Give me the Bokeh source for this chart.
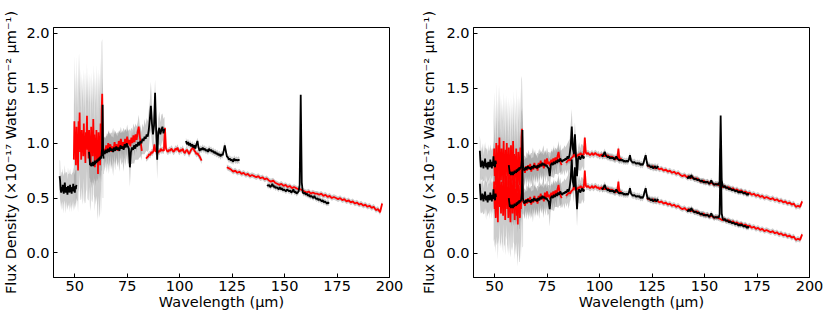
import numpy as np
from bokeh.plotting import figure
from bokeh.layouts import row
from bokeh.models import Range1d, FixedTicker, NumeralTickFormatter
from bokeh.embed import file_html
from bokeh.resources import INLINE

X_TICKS = [50, 75, 100, 125, 150, 175, 200]
Y_TICKS = [0.0, 0.5, 1.0, 1.5, 2.0]
X_LABEL = "Wavelength (μm)"
Y_LABEL = "Flux Density (×10⁻¹⁷ Watts cm⁻² μm⁻¹)"

# ---------------- left panel (unscaled segments) ----------------
L_B1_START, L_B1_STEP = 42.8, 0.25
L_B1_FLUX = [0.70, 0.66, 0.58, 0.55, 0.60, 0.56, 0.62, 0.57, 0.54, 0.59,
             0.64, 0.57, 0.55, 0.60, 0.58, 0.53, 0.61, 0.57, 0.59, 0.55,
             0.62, 0.56, 0.58, 0.54, 0.60, 0.57, 0.63, 0.56, 0.59, 0.55,
             0.61, 0.58, 0.62]
L_B1_ERR = [0.15, 0.18, 0.13, 0.16, 0.14, 0.17, 0.15, 0.13, 0.18, 0.14,
            0.16, 0.15, 0.19, 0.13, 0.16, 0.14, 0.17, 0.15, 0.13, 0.18,
            0.15, 0.16, 0.14, 0.17, 0.13, 0.16, 0.15, 0.18, 0.14, 0.16,
            0.15, 0.17, 0.14]

L_R1_START, L_R1_STEP = 49.6, 0.25
L_R1_FLUX = [0.85, 1.20, 0.95, 1.10, 0.80, 1.15, 0.90, 1.05, 0.75, 1.20,
             1.00, 1.28, 0.92, 1.08, 0.85, 1.12, 0.96, 1.02, 0.88, 1.18,
             0.90, 1.05, 0.82, 1.10, 0.98, 1.25, 0.94, 1.06, 0.86, 1.12,
             0.95, 1.00, 0.80, 1.15, 0.92, 1.02, 0.88, 1.22, 0.95, 1.08,
             0.78, 1.05, 0.90, 1.12, 0.85, 1.00, 0.72, 1.10, 0.92, 0.98,
             0.80, 1.18, 0.88, 1.30, 1.45, 1.05, 0.95]
L_R1_ERR = [0.45, 0.60, 0.40, 0.55, 0.35, 0.65, 0.42, 0.58, 0.38, 0.62,
            0.45, 0.55, 0.40, 0.60, 0.36, 0.52, 0.44, 0.58, 0.38, 0.50,
            0.42, 0.60, 0.36, 0.55, 0.40, 0.48, 0.44, 0.58, 0.38, 0.52,
            0.42, 0.62, 0.36, 0.50, 0.44, 0.56, 0.38, 0.50, 0.42, 0.58,
            0.40, 0.55, 0.46, 0.60, 0.38, 0.65, 0.42, 0.58, 0.50, 0.66,
            0.44, 0.60, 0.52, 0.62, 0.50, 0.55, 0.45]

L_B2_START, L_B2_STEP = 56.8, 0.25
L_B2_FLUX = [0.92, 0.88, 0.80, 0.82, 0.79, 0.81, 0.80, 0.83, 0.79, 0.82,
             0.80, 0.84, 0.81, 0.83, 0.82, 0.85, 0.83, 0.84, 0.86, 0.84,
             0.87, 0.85, 0.88, 0.86, 0.90, 0.95, 1.35, 0.90, 0.86]
L_B2_ERR = [0.15, 0.20, 0.12, 0.18, 0.14, 0.22, 0.13, 0.19, 0.15, 0.21,
            0.12, 0.18, 0.16, 0.22, 0.13, 0.20, 0.15, 0.19, 0.12, 0.21,
            0.14, 0.18, 0.16, 0.22, 0.15, 0.20, 0.25, 0.18, 0.14]

L_B3_START, L_B3_STEP = 63.8, 0.5
L_B3_FLUX = [0.93, 0.90, 0.94, 0.91, 0.95, 0.92, 0.96, 0.93, 0.95, 0.92,
             0.96, 0.93, 0.97, 0.94, 0.96, 0.93, 0.98, 0.95, 0.97, 0.94,
             0.99, 0.96, 1.00, 0.97, 0.95, 0.78, 0.92, 0.96, 0.94, 0.98,
             0.95, 0.99, 0.97, 1.01, 0.98, 1.02, 1.00, 1.04, 1.02, 1.06,
             1.04, 1.08, 1.06, 1.12, 1.22, 1.34, 1.18, 1.08, 1.16, 1.46,
             1.12, 0.85, 1.10, 1.14, 1.08, 1.12, 1.15, 1.09, 1.13]
L_B3_ERR = [0.12, 0.16, 0.10, 0.18, 0.13, 0.20, 0.11, 0.17, 0.14, 0.22,
            0.12, 0.18, 0.10, 0.16, 0.13, 0.19, 0.11, 0.15, 0.14, 0.20,
            0.12, 0.17, 0.10, 0.16, 0.13, 0.18, 0.11, 0.15, 0.12, 0.17,
            0.10, 0.14, 0.12, 0.16, 0.11, 0.15, 0.10, 0.14, 0.12, 0.16,
            0.12, 0.15, 0.14, 0.18, 0.16, 0.22, 0.18, 0.14, 0.16, 0.12,
            0.14, 0.18, 0.12, 0.15, 0.11, 0.14, 0.12, 0.13, 0.11]

L_R2_START, L_R2_STEP = 64.0, 0.5
L_R2_FLUX = [0.95, 0.91, 0.98, 0.93, 1.00, 0.94, 0.99, 0.92, 0.97, 0.93,
             1.01, 0.95, 0.99, 0.93, 1.02, 0.96, 1.04, 0.97, 1.01, 0.95,
             1.04, 0.98, 1.06, 0.99, 1.03, 0.97, 1.05, 1.00, 1.07, 1.01,
             1.08, 1.03, 1.10, 1.15, 1.06, 1.00, 0.93]
L_R2_ERR = [0.10, 0.14, 0.09, 0.13, 0.11, 0.15, 0.10, 0.14, 0.09, 0.12,
            0.11, 0.15, 0.10, 0.13, 0.09, 0.14, 0.11, 0.12, 0.10, 0.14,
            0.09, 0.13, 0.11, 0.12, 0.10, 0.14, 0.09, 0.12, 0.11, 0.13,
            0.10, 0.12, 0.09, 0.11, 0.10, 0.12, 0.09]

L_R3_START, L_R3_STEP = 84.0, 0.5
L_R3_FLUX = [0.86, 0.87, 0.88, 0.90, 0.89, 0.92, 0.91, 0.93, 0.99, 0.92,
             0.94, 0.91, 0.93, 0.92, 0.95, 0.93, 0.94, 0.93, 1.14, 0.95,
             0.93, 0.92, 0.94, 0.93, 0.95, 0.94, 0.92, 0.93, 0.95, 0.94,
             0.96, 0.93, 0.92, 0.94, 0.93, 0.95, 0.92, 0.91, 0.93, 0.94,
             0.92, 0.90, 0.92, 0.94, 0.95, 0.97, 0.93, 0.92, 0.90, 0.91,
             0.89, 0.88, 0.86, 0.84]
L_R3_ERR = 0.03

L_B4_START, L_B4_STEP = 103.0, 0.5
L_B4_FLUX = [1.02, 0.99, 1.01, 0.98, 1.00, 0.97, 0.99, 0.96, 0.98, 0.95,
             0.99, 1.02, 0.96, 0.93, 0.95, 0.94, 0.96, 0.94, 0.95, 0.93,
             0.94, 0.92, 0.95, 0.93, 0.94, 0.92, 0.93, 0.91, 0.92, 0.90,
             0.91, 0.89, 0.90, 0.88, 0.90, 0.89, 0.93, 0.98, 0.93, 0.88,
             0.87, 0.85, 0.86, 0.84, 0.85, 0.83, 0.86, 0.84, 0.85, 0.84,
             0.85, 0.84]
L_B4_ERR = 0.03

L_R4_START, L_R4_STEP = 122.5, 1.0
L_R4_FLUX = [0.78, 0.77, 0.76,
             0.74, 0.75, 0.73, 0.74, 0.72,
             0.73, 0.71, 0.72, 0.70, 0.71,
             0.70, 0.69, 0.70, 0.68, 0.69,
             0.67, 0.68, 0.66, 0.65, 0.66,
             0.64, 0.63, 0.62, 0.63, 0.61,
             0.62, 0.60, 0.61, 0.59, 0.60,
             0.59, 0.58, 0.58, 0.57, 0.56,
             0.55, 0.56, 0.54, 0.55, 0.54,
             0.54, 0.53, 0.54, 0.52, 0.53,
             0.51, 0.52, 0.50, 0.51, 0.50,
             0.49, 0.50, 0.48, 0.49, 0.47,
             0.48, 0.46, 0.47, 0.45, 0.46,
             0.44, 0.45, 0.43, 0.44, 0.42,
             0.43, 0.41, 0.42, 0.39, 0.40,
             0.37, 0.45]
L_R4_ERR = 0.025

L_B5_START, L_B5_STEP = 141.7, 0.5
L_B5_FLUX = [0.62, 0.61, 0.62, 0.60, 0.61, 0.63, 0.60, 0.61, 0.59, 0.60,
             0.59, 0.58, 0.60, 0.58, 0.59, 0.57, 0.58, 0.57, 0.56, 0.58,
             0.57, 0.56, 0.57, 0.55, 0.56, 0.58, 0.55, 0.56, 0.54, 0.55,
             0.56, 0.62, 1.44, 0.64, 0.55, 0.54, 0.55, 0.53, 0.54, 0.52,
             0.53, 0.51, 0.52, 0.51, 0.50, 0.52, 0.50, 0.49, 0.50, 0.48,
             0.49, 0.48, 0.47, 0.48, 0.46, 0.47, 0.46, 0.45, 0.46, 0.45]
L_B5_ERR = 0.025

# ---------------- right panel (scaled spectrum, shown twice) ----------------
R_OFFSETS = [0.0, -0.30]

R_B1_START, R_B1_STEP = 43.0, 0.25
R_B1_FLUX = [0.93, 0.85, 0.78, 0.82, 0.79, 0.84, 0.80, 0.77, 0.83, 0.79,
             0.86, 0.81, 0.78, 0.82, 0.80, 0.76, 0.83, 0.79, 0.81, 0.78,
             0.85, 0.80, 0.82, 0.77, 0.83, 0.80, 0.88, 0.79, 0.82, 0.78,
             0.84, 0.81]
R_B1_ERR = [0.14, 0.17, 0.12, 0.15, 0.13, 0.16, 0.14, 0.12, 0.17, 0.13,
            0.15, 0.14, 0.18, 0.12, 0.15, 0.13, 0.16, 0.14, 0.12, 0.17,
            0.14, 0.15, 0.13, 0.16, 0.12, 0.15, 0.14, 0.17, 0.13, 0.15,
            0.14, 0.16]

R_R1_START, R_R1_STEP = 49.6, 0.25
R_R1_FLUX = [0.80, 0.95, 0.70, 0.88, 0.62, 1.00, 0.75, 0.90, 0.58, 0.98,
             0.78, 1.05, 0.72, 0.92, 0.66, 0.95, 0.80, 0.86, 0.64, 1.02,
             0.74, 0.90, 0.60, 0.94, 0.78, 1.00, 0.70, 0.88, 0.62, 0.96,
             0.76, 0.84, 0.58, 0.98, 0.72, 0.86, 0.66, 1.02, 0.78, 0.90,
             0.60, 0.88, 0.70, 0.95, 0.64, 0.84, 0.56, 0.92, 0.74, 0.82,
             0.62, 0.96, 0.70, 1.05, 1.13, 0.85, 0.76]
R_R1_ERR = [0.40, 0.52, 0.35, 0.48, 0.32, 0.55, 0.38, 0.50, 0.34, 0.54,
            0.40, 0.48, 0.36, 0.52, 0.32, 0.46, 0.40, 0.50, 0.34, 0.45,
            0.38, 0.52, 0.32, 0.48, 0.36, 0.44, 0.40, 0.50, 0.34, 0.46,
            0.38, 0.54, 0.32, 0.45, 0.40, 0.50, 0.34, 0.46, 0.38, 0.52,
            0.36, 0.50, 0.42, 0.55, 0.34, 0.58, 0.38, 0.52, 0.45, 0.60,
            0.40, 0.54, 0.46, 0.56, 0.45, 0.50, 0.40]

R_B2_START, R_B2_STEP = 56.8, 0.25
R_B2_FLUX = [0.80, 0.76, 0.72, 0.74, 0.71, 0.73, 0.72, 0.74, 0.71, 0.73,
             0.72, 0.75, 0.73, 0.74, 0.73, 0.76, 0.74, 0.75, 0.77, 0.75,
             0.78, 0.76, 0.78, 0.77, 0.80, 0.85, 1.12, 0.80, 0.77]
R_B2_ERR = [0.13, 0.17, 0.10, 0.15, 0.12, 0.19, 0.11, 0.16, 0.13, 0.18,
            0.10, 0.15, 0.14, 0.19, 0.11, 0.17, 0.13, 0.16, 0.10, 0.18,
            0.12, 0.15, 0.14, 0.19, 0.13, 0.17, 0.21, 0.15, 0.12]

R_B3_START, R_B3_STEP = 63.8, 0.5
R_B3_FLUX = [0.77, 0.75, 0.78, 0.76, 0.79, 0.77, 0.78, 0.76, 0.79, 0.77,
             0.80, 0.78, 0.79, 0.77, 0.80, 0.78, 0.81, 0.79, 0.82, 0.80,
             0.81, 0.79, 0.80, 0.78, 0.77, 0.70, 0.80, 0.82, 0.80, 0.83,
             0.81, 0.84, 0.82, 0.85, 0.83, 0.86, 0.84, 0.83, 0.85, 0.84,
             0.86, 0.85, 0.88, 0.86, 0.90, 0.98, 1.15, 0.95, 0.90, 1.08,
             0.88, 0.70, 0.86, 0.88, 0.85, 0.87, 0.89, 0.86, 0.88]
R_B3_ERR = [0.10, 0.14, 0.09, 0.16, 0.11, 0.17, 0.10, 0.15, 0.12, 0.19,
            0.10, 0.16, 0.09, 0.14, 0.11, 0.17, 0.10, 0.13, 0.12, 0.18,
            0.10, 0.15, 0.09, 0.14, 0.11, 0.16, 0.10, 0.13, 0.11, 0.15,
            0.09, 0.12, 0.10, 0.14, 0.10, 0.13, 0.09, 0.12, 0.10, 0.14,
            0.10, 0.13, 0.12, 0.16, 0.14, 0.19, 0.16, 0.12, 0.14, 0.11,
            0.12, 0.16, 0.10, 0.13, 0.10, 0.12, 0.10, 0.11, 0.10]

R_R2_START, R_R2_STEP = 64.0, 0.5
R_R2_FLUX = [0.76, 0.73, 0.79, 0.75, 0.80, 0.76, 0.81, 0.74, 0.79, 0.76,
             0.82, 0.77, 0.80, 0.75, 0.82, 0.78, 0.84, 0.79, 0.82, 0.77,
             0.85, 0.80, 0.86, 0.81, 0.83, 0.79, 0.85, 0.81, 0.86, 0.82,
             0.87, 0.83, 0.88, 0.92, 0.85, 0.82, 0.80]
R_R2_ERR = [0.09, 0.12, 0.08, 0.11, 0.10, 0.13, 0.09, 0.12, 0.08, 0.11,
            0.10, 0.13, 0.09, 0.11, 0.08, 0.12, 0.10, 0.11, 0.09, 0.12,
            0.08, 0.11, 0.10, 0.11, 0.09, 0.12, 0.08, 0.11, 0.10, 0.11,
            0.09, 0.11, 0.08, 0.10, 0.09, 0.11, 0.08]

R_R3_START, R_R3_STEP = 84.0, 0.5
R_R3_FLUX = [0.82, 0.83, 0.84, 0.85, 0.84, 0.86, 0.87, 0.88, 0.93, 0.87,
             0.89, 0.88, 0.90, 0.89, 0.91, 0.89, 0.90, 0.89, 1.05, 0.91,
             0.90, 0.91, 0.90, 0.89, 0.90, 0.91, 0.89, 0.90, 0.91, 0.90,
             0.89, 0.90, 0.88, 0.89, 0.90, 0.88, 0.89, 0.88, 0.89, 0.88,
             0.89, 0.87, 0.88, 0.87, 0.88, 0.86, 0.87, 0.85, 0.86, 0.86,
             0.95, 0.85, 0.86, 0.85]
R_R3_ERR = 0.03

R_B4_START, R_B4_STEP = 101.0, 0.5
R_B4_FLUX = [0.89, 0.88, 0.90, 0.92, 0.89, 0.88, 0.87, 0.88, 0.86, 0.87,
             0.86, 0.87, 0.85, 0.86, 0.88, 0.86, 0.85, 0.84, 0.85, 0.84,
             0.85, 0.83, 0.84, 0.83, 0.84, 0.83, 0.85, 0.89, 0.84, 0.83,
             0.82, 0.83, 0.82, 0.81, 0.82, 0.81, 0.82, 0.80, 0.81, 0.80,
             0.82, 0.86, 0.89, 0.83, 0.79, 0.80, 0.79, 0.78, 0.79, 0.77,
             0.78, 0.79, 0.77, 0.78, 0.79]
R_B4_ERR = 0.03

R_R4_START, R_R4_STEP = 122.5, 1.0
R_R4_FLUX = [0.80, 0.79, 0.78,
             0.79, 0.77, 0.78, 0.76, 0.77,
             0.75, 0.76, 0.74, 0.75, 0.73,
             0.74, 0.72, 0.73, 0.71, 0.70,
             0.71, 0.69, 0.70, 0.68, 0.69,
             0.67, 0.68, 0.66, 0.65, 0.66,
             0.64, 0.65, 0.63, 0.64, 0.62,
             0.63, 0.62, 0.61, 0.60, 0.61,
             0.59, 0.60, 0.58, 0.59, 0.57,
             0.58, 0.56, 0.57, 0.55, 0.56,
             0.54, 0.55, 0.53, 0.54, 0.52,
             0.53, 0.51, 0.52, 0.50, 0.51,
             0.50, 0.49, 0.50, 0.48, 0.49,
             0.47, 0.48, 0.46, 0.47, 0.45,
             0.46, 0.44, 0.45, 0.42, 0.43,
             0.42, 0.47]
R_R4_ERR = 0.025

R_B5_START, R_B5_STEP = 141.7, 0.5
R_B5_FLUX = [0.69, 0.68, 0.70, 0.68, 0.71, 0.69, 0.68, 0.67, 0.68, 0.67,
             0.66, 0.67, 0.66, 0.65, 0.66, 0.65, 0.64, 0.65, 0.64, 0.65,
             0.64, 0.63, 0.64, 0.66, 0.64, 0.63, 0.62, 0.63, 0.62, 0.63,
             0.62, 0.65, 1.25, 0.66, 0.61, 0.60, 0.61, 0.59, 0.60, 0.59,
             0.58, 0.59, 0.58, 0.57, 0.58, 0.57, 0.56, 0.57, 0.56, 0.55,
             0.56, 0.55, 0.56, 0.55, 0.54, 0.55, 0.54, 0.53, 0.54, 0.53]
R_B5_ERR = 0.025

LEFT_RED = [(L_R1_START, L_R1_STEP, L_R1_FLUX, L_R1_ERR),
            (L_R2_START, L_R2_STEP, L_R2_FLUX, L_R2_ERR),
            (L_R3_START, L_R3_STEP, L_R3_FLUX, L_R3_ERR),
            (L_R4_START, L_R4_STEP, L_R4_FLUX, L_R4_ERR)]
LEFT_BLACK = [(L_B1_START, L_B1_STEP, L_B1_FLUX, L_B1_ERR),
              (L_B2_START, L_B2_STEP, L_B2_FLUX, L_B2_ERR),
              (L_B3_START, L_B3_STEP, L_B3_FLUX, L_B3_ERR),
              (L_B4_START, L_B4_STEP, L_B4_FLUX, L_B4_ERR),
              (L_B5_START, L_B5_STEP, L_B5_FLUX, L_B5_ERR)]
RIGHT_RED = [(R_R1_START, R_R1_STEP, R_R1_FLUX, R_R1_ERR),
             (R_R2_START, R_R2_STEP, R_R2_FLUX, R_R2_ERR),
             (R_R3_START, R_R3_STEP, R_R3_FLUX, R_R3_ERR),
             (R_R4_START, R_R4_STEP, R_R4_FLUX, R_R4_ERR)]
RIGHT_BLACK = [(R_B1_START, R_B1_STEP, R_B1_FLUX, R_B1_ERR),
               (R_B2_START, R_B2_STEP, R_B2_FLUX, R_B2_ERR),
               (R_B3_START, R_B3_STEP, R_B3_FLUX, R_B3_ERR),
               (R_B4_START, R_B4_STEP, R_B4_FLUX, R_B4_ERR),
               (R_B5_START, R_B5_STEP, R_B5_FLUX, R_B5_ERR)]

FONT = "DejaVu Sans"
FSIZE = "14.5px"


def expand(seg, offset):
    start, step, flux, err = seg
    f = np.asarray(flux, dtype=float) + offset
    w = start + step * np.arange(len(f))
    e = np.broadcast_to(np.asarray(err, dtype=float), f.shape)
    return w, f, e


def make_panel(border_left, border_right, border_top, border_bottom, x_start,
               y_range, red, black, offsets, y_label_standoff):
    p = figure(width=415, height=320, output_backend="svg", toolbar_location=None,
               x_range=Range1d(x_start, 200), y_range=Range1d(*y_range),
               min_border_left=border_left, min_border_right=border_right,
               min_border_top=border_top, min_border_bottom=border_bottom,
               background_fill_color="white", border_fill_color="white")
    p.grid.visible = False
    p.outline_line_color = "black"
    p.outline_line_alpha = 1.0
    p.outline_line_width = 1

    for off in offsets:
        for seg in red + black:
            w, f, e = expand(seg, off)
            p.varea(x=w, y1=f - e, y2=f + e, fill_color="#7f7f7f", fill_alpha=0.4)
    for off in offsets:
        for seg in red:
            w, f, e = expand(seg, off)
            p.line(w, f, line_color="#ff0000", line_width=1.8)
    for off in offsets:
        for seg in black:
            w, f, e = expand(seg, off)
            p.line(w, f, line_color="#000000", line_width=1.8)

    p.xaxis.ticker = FixedTicker(ticks=X_TICKS)
    p.yaxis.ticker = FixedTicker(ticks=Y_TICKS)
    p.yaxis.formatter = NumeralTickFormatter(format="0.0")
    p.xaxis.axis_label = X_LABEL
    p.yaxis.axis_label = Y_LABEL
    for ax in (p.xaxis, p.yaxis):
        ax.major_tick_in = 4
        ax.major_tick_out = 0
        ax.minor_tick_in = 0
        ax.minor_tick_out = 0
        ax.axis_line_color = "black"
        ax.major_tick_line_color = "black"
        ax.major_label_text_font = FONT
        ax.major_label_text_font_size = FSIZE
        ax.major_label_text_color = "black"
        ax.axis_label_text_font = FONT
        ax.axis_label_text_font_size = FSIZE
        ax.axis_label_text_font_style = "normal"
        ax.axis_label_text_color = "black"
    p.xaxis.major_label_standoff = 3
    p.xaxis.axis_label_standoff = 0
    p.yaxis.major_label_standoff = 4
    p.yaxis.axis_label_standoff = y_label_standoff
    return p


p1 = make_panel(53, 26, 26, 43, 39.9, (-0.224, 2.054), LEFT_RED, LEFT_BLACK, [0.0], 4)
p2 = make_panel(58, 21, 27, 43, 40.0, (-0.222, 2.051), RIGHT_RED, RIGHT_BLACK, R_OFFSETS, 6)
p = row(p1, p2)

open("out.html", "w").write(file_html(p, INLINE))
